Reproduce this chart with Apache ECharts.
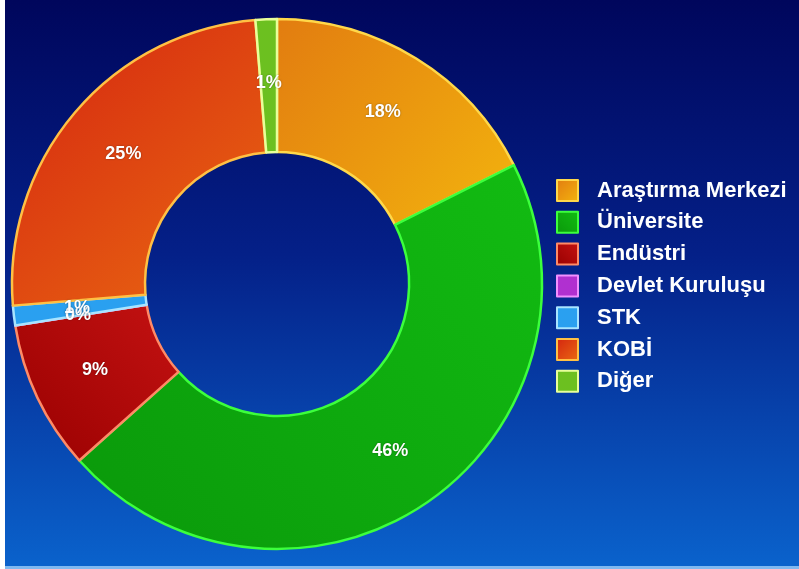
<!DOCTYPE html>
<html><head><meta charset="utf-8">
<script src="https://cdn.jsdelivr.net/npm/echarts@6/dist/echarts.min.js"></script>
<style>
html,body{margin:0;padding:0;width:799px;height:569px;overflow:hidden;background:#ffffff;}
#strip{position:absolute;left:5px;top:566px;width:794px;height:3px;background:#7fb8f0;}
#c{position:absolute;left:5px;top:0;width:794px;height:566px;}
</style></head><body>
<div id="c"></div><div id="strip"></div>
<script>
const categories = ['Araştırma Merkezi','Üniversite','Endüstri','Devlet Kuruluşu','STK','KOBİ','Diğer'];
const values = [17.6, 45.8, 9.1, 0, 1.2, 25.0, 1.3];

const G = (x0,y0,x1,y1,a,b) => new echarts.graphic.LinearGradient(x0,y0,x1,y1,[{offset:0,color:a},{offset:1,color:b}]);
const styles = [
  {color:G(0,0,1,1,'#e27c10','#f3b40e'), borderColor:'#ffd84a'},
  {color:G(1,0,0,1,'#12bc12','#0a980a'), borderColor:'#3cff3c'},
  {color:G(0,1,1,0,'#980000','#c41212'), borderColor:'#ff8a66'},
  {color:'#b030d0', borderColor:'#f090ff'},
  {color:'#2aa0f0', borderColor:'#a8e4ff'},
  {color:G(0,0,1,1,'#d42410','#ea6a12'), borderColor:'#ffc044'},
  {color:'#6cc020', borderColor:'#e8ff9a'}
];

const chart = echarts.init(document.getElementById('c'));
chart.setOption({
  backgroundColor: new echarts.graphic.LinearGradient(0,0,0,1,[
    {offset:0,color:'#00065c'},{offset:0.45,color:'#042088'},{offset:1,color:'#0a62cc'}]),
  legend:{
    orient:'vertical', left:546, top:174, itemWidth:21, itemHeight:21, itemGap:8.8,
    icon:'rect',
    textStyle:{color:'#ffffff', fontFamily:'Liberation Sans, Arial', fontWeight:'bold', fontSize:22, lineHeight:21, padding:[0,0,0,14]},
    data: categories
  },
  series:[{
    type:'pie', center:[272,284], radius:[132,265], startAngle:90, clockwise:true,
    avoidLabelOverlap:false, minShowLabelAngle:0, stillShowZeroSum:true,
    labelLayout:{hideOverlap:false},
    label:{show:true, position:'inside', color:'#ffffff', fontFamily:'Liberation Sans, Arial', fontWeight:'bold', fontSize:18,
      textShadowColor:'rgba(0,0,0,0.4)', textShadowBlur:2,
      formatter: p => Math.round(p.value)+'%'},
    labelLine:{show:false},
    itemStyle:{borderWidth:2.5},
    emphasis:{disabled:true},
    data: categories.map((n,i)=>({name:n, value:values[i], itemStyle:styles[i]}))
  }]
});
</script></body></html>
